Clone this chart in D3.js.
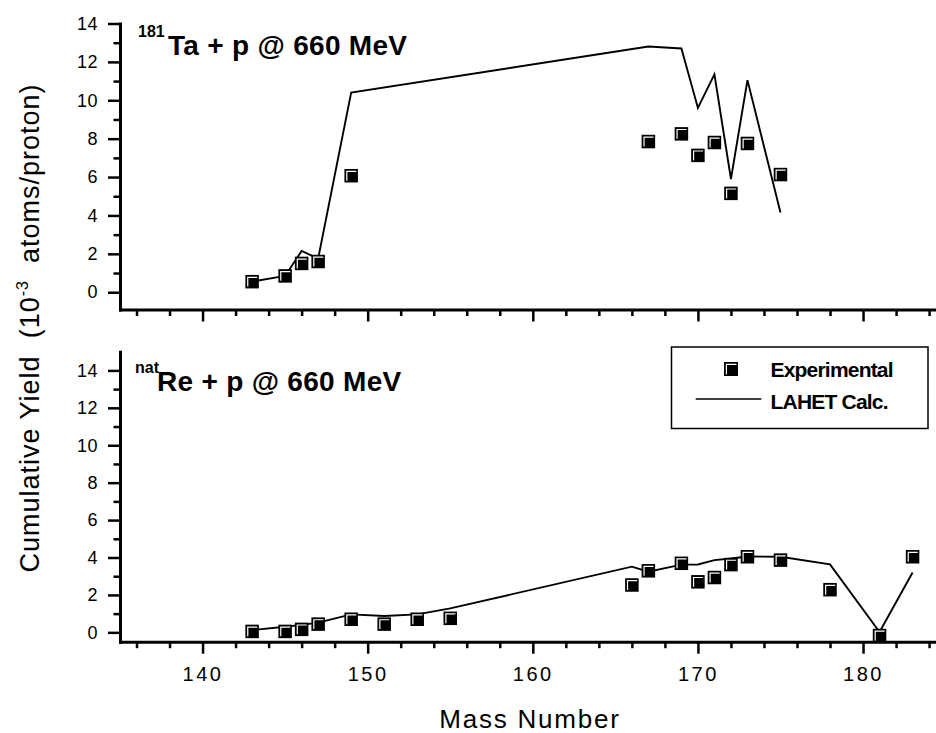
<!DOCTYPE html>
<html>
<head>
<meta charset="utf-8">
<script src="https://cdn.jsdelivr.net/npm/d3@7"></script>
<style>
  body { margin: 0; background: #fff; }
  svg { display: block; font-family: "Liberation Sans", Arial, sans-serif; }
  .axis .domain { stroke: #000; stroke-width: 3; stroke-linecap: square; }
  .axis line { stroke: #000; stroke-width: 2.5; }
  .axis text { fill: #000; }
  .y.axis text { font-size: 18px; letter-spacing: 0.5px; }
  .x.axis text { font-size: 20px; letter-spacing: 2.5px; }
  .pre { white-space: pre; }
</style>
</head>
<body>
<div id="chart"></div>
<script>
// Ta-181 + p panel
const taMass = [143, 145, 146, 147, 149, 167, 169, 170, 171, 172, 173, 175];
const taExperimental = [0.55, 0.85, 1.5, 1.6, 6.07, 7.85, 8.25, 7.13, 7.8, 5.15, 7.75, 6.13];
const taCalc = [0.55, 0.85, 2.15, 1.75, 10.4, 12.8, 12.7, 9.6, 11.35, 5.9, 11.05, 4.15];

// natRe + p panel
const reMass = [143, 145, 146, 147, 149, 151, 153, 155, 166, 167, 169, 170, 171, 172, 173, 175, 178, 181, 183];
const reExperimental = [0.05, 0.05, 0.16, 0.44, 0.7, 0.44, 0.7, 0.75, 2.53, 3.29, 3.69, 2.7, 2.93, 3.62, 4.04, 3.86, 2.28, -0.17, 4.04];
const reCalc = [0.12, 0.3, 0.4, 0.52, 0.96, 0.87, 0.96, 1.28, 3.51, 3.24, 3.62, 3.63, 3.86, 3.95, 4.05, 4.04, 3.63, 0.02, 3.2];

const xMajorTicks = [140, 150, 160, 170, 180];
const yMajorTicks = [0, 2, 4, 6, 8, 10, 12, 14];
const legendLabels = ['Experimental', 'LAHET Calc.'];

const svgWidth = 936;
const svgHeight = 733;

const svg = d3.select('#chart')
    .append('svg')
    .attr('width', svgWidth)
    .attr('height', svgHeight);

const xScale = d3.scaleLinear()
    .domain([135, 185])
    .range([120, 945.6]);

const xMinorTicks = d3.range(136, 186, 2).filter(d => d % 10 !== 0);
const yMinorTicks = d3.range(1, 15, 2);

const marker = (sel, size) => {
    const h = size / 2;
    sel.append('rect')
        .attr('x', -h)
        .attr('y', -h)
        .attr('width', size)
        .attr('height', size)
        .attr('fill', '#000');
    sel.append('path')
        .attr('d', `M${-h + 2.4},${h - 1.8}V${-h + 2.4}H${h - 1.6}`)
        .attr('fill', 'none')
        .attr('stroke', '#fff')
        .attr('stroke-width', 1.2);
};

const drawPanel = ({ mass, experimental, calc, yDomain, yRange, showLabels, sup, supX, title, titleX, titleY }) => {

    const yScale = d3.scaleLinear()
        .domain(yDomain)
        .range(yRange);

    const bounds = svg.append('g');

    // minor ticks
    bounds.append('g')
        .attr('class', 'y axis minor')
        .attr('transform', `translate(${xScale.range()[0]}, 0)`)
        .call(d3.axisLeft(yScale).tickValues(yMinorTicks).tickSize(6.5).tickFormat(''))
        .call(g => g.select('.domain').remove());

    bounds.append('g')
        .attr('class', 'x axis minor')
        .attr('transform', `translate(0, ${yRange[0]})`)
        .call(d3.axisBottom(xScale).tickValues(xMinorTicks).tickSize(6.5).tickFormat(''))
        .call(g => g.select('.domain').remove());

    bounds.append('g')
        .attr('class', 'y axis')
        .attr('transform', `translate(${xScale.range()[0]}, 0)`)
        .call(d3.axisLeft(yScale)
            .tickValues(yMajorTicks)
            .tickSize(12)
            .tickSizeOuter(0)
            .tickPadding(10));

    bounds.append('g')
        .attr('class', 'x axis')
        .attr('transform', `translate(0, ${yRange[0]})`)
        .call(d3.axisBottom(xScale)
            .tickValues(xMajorTicks)
            .tickSize(12)
            .tickSizeOuter(0)
            .tickPadding(13)
            .tickFormat(showLabels ? d => d : ''));

    const line = d3.line()
        .x((d, i) => xScale(mass[i]))
        .y(d => yScale(d));

    bounds.append('path')
        .datum(calc)
        .attr('d', line)
        .attr('fill', 'none')
        .attr('stroke', '#000')
        .attr('stroke-width', 1.9)
        .attr('stroke-linejoin', 'miter');

    bounds.selectAll('g.pt')
        .data(experimental)
        .join('g')
        .attr('class', 'pt')
        .attr('transform', (d, i) => `translate(${xScale(mass[i])}, ${yScale(d)})`)
        .each(function () { marker(d3.select(this), 13.5); });

    bounds.append('text')
        .attr('x', supX)
        .attr('y', titleY - 18)
        .attr('font-size', 16)
        .attr('font-weight', 'bold')
        .text(sup);

    bounds.append('text')
        .attr('x', titleX)
        .attr('y', titleY)
        .attr('font-size', 28)
        .attr('font-weight', 'bold')
        .attr('letter-spacing', 0.3)
        .text(title);
};

drawPanel({
    mass: taMass,
    experimental: taExperimental,
    calc: taCalc,
    yDomain: [-0.9, 14],
    yRange: [309.5, 23.5],
    showLabels: false,
    sup: '181',
    supX: 138,
    title: 'Ta + p @ 660 MeV',
    titleX: 168,
    titleY: 55
});

drawPanel({
    mass: reMass,
    experimental: reExperimental,
    calc: reCalc,
    yDomain: [-0.5, 15],
    yRange: [641.7, 351.7],
    showLabels: true,
    sup: 'nat',
    supX: 135,
    title: 'Re + p @ 660 MeV',
    titleX: 157,
    titleY: 391
});

// legend
const legend = svg.append('g');
legend.append('rect')
    .attr('x', 671.5)
    .attr('y', 347)
    .attr('width', 256.5)
    .attr('height', 81.5)
    .attr('fill', '#fff')
    .attr('stroke', '#000')
    .attr('stroke-width', 1.5);
legend.append('g')
    .attr('transform', 'translate(731, 369)')
    .call(g => marker(g, 14));
legend.append('line')
    .attr('x1', 695.7)
    .attr('x2', 761.3)
    .attr('y1', 399)
    .attr('y2', 399)
    .attr('stroke', '#000')
    .attr('stroke-width', 1.5);
legend.selectAll('text')
    .data(legendLabels)
    .join('text')
    .attr('x', 770.5)
    .attr('y', (d, i) => 377 + i * 31.5)
    .attr('font-size', 21)
    .attr('font-weight', 'bold')
    .attr('letter-spacing', -0.8)
    .text(d => d);

// axis titles
svg.append('text')
    .attr('x', 530)
    .attr('y', 728)
    .attr('text-anchor', 'middle')
    .attr('font-size', 26)
    .attr('letter-spacing', 1.8)
    .text('Mass Number');

const yTitle = svg.append('text')
    .attr('class', 'pre')
    .attr('transform', 'translate(39, 328) rotate(-90)')
    .attr('text-anchor', 'middle')
    .attr('font-size', 27)
    .attr('letter-spacing', 1);
yTitle.append('tspan').text('Cumulative Yield  (10');
yTitle.append('tspan').attr('font-size', 16).attr('dy', -11).text('-3');
yTitle.append('tspan').attr('dy', 11).text('  atoms/proton)');
</script>
</body>
</html>
